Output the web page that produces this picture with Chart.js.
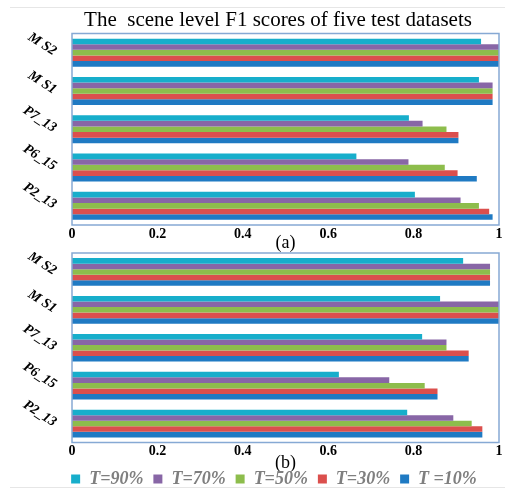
<!DOCTYPE html>
<html>
<head>
<meta charset="utf-8">
<script src="https://cdn.jsdelivr.net/npm/chart.js@4"></script>
<style>
  html, body { margin: 0; padding: 0; background: #fff; }
  body { width: 505px; height: 489px; overflow: hidden; position: relative; }
  .rule { position: absolute; left: 10px; right: 0; height: 1px; background: #e6e6e6; z-index: 2; }
  #ruleTop { top: 7px; }
  #ruleBottom { top: 487px; }
  .panel { position: absolute; left: 0; }
  .panel canvas { display: block; }
  #panelA { top: 0; }
  #panelB { top: 252px; }
</style>
</head>
<body>
<div class="rule" id="ruleTop"></div>
<div class="panel" id="panelA"><canvas id="chartA" width="505" height="252"></canvas></div>
<div class="panel" id="panelB"><canvas id="chartB" width="505" height="246"></canvas></div>
<div class="rule" id="ruleBottom"></div>
<script>
// Test datasets (top to bottom) and threshold series
const categories = ['M S2', 'M S1', 'P7_13', 'P6_15', 'P2_13'];
const seriesLabels = ['T=90%', 'T=70%', 'T=50%', 'T=30%', 'T =10%'];
const seriesColors = ['#17AECB', '#8866A6', '#8DBD4C', '#DB4F4D', '#1F7AC3'];
const xTickValues = [0, 0.2, 0.4, 0.6, 0.8, 1];
const xTickLabels = ['0', '0.2', '0.4', '0.6', '0.8', '1'];

// Panel (a) scene level F1 scores
const a_T90 = [0.958, 0.953, 0.789, 0.666, 0.803];
const a_T70 = [1.0, 0.985, 0.821, 0.788, 0.910];
const a_T50 = [1.0, 0.985, 0.877, 0.873, 0.953];
const a_T30 = [1.0, 0.985, 0.905, 0.903, 0.977];
const a_T10 = [1.0, 0.985, 0.905, 0.948, 0.985];

// Panel (b) scene level F1 scores
const b_T90 = [0.916, 0.862, 0.820, 0.625, 0.785];
const b_T70 = [0.979, 1.0, 0.877, 0.743, 0.893];
const b_T50 = [0.979, 1.0, 0.877, 0.826, 0.936];
const b_T30 = [0.979, 1.0, 0.929, 0.856, 0.961];
const b_T10 = [0.979, 1.0, 0.929, 0.856, 0.961];

const SERIF = "'Liberation Serif', 'Times New Roman', serif";

// Thin frame around the plotting area
const frame = {
  id: 'frame',
  afterDatasetsDraw(chart, args, opts) {
    const { ctx, chartArea: a } = chart;
    ctx.save();
    ctx.strokeStyle = opts.color;
    ctx.lineWidth = opts.width;
    ctx.strokeRect(a.left, a.top, a.right - a.left, a.bottom - a.top);
    ctx.restore();
  }
};

function buildChart(id, series, cfg) {
  return new Chart(document.getElementById(id), {
    type: 'bar',
    data: {
      labels: categories,
      datasets: seriesLabels.map((label, i) => ({
        label,
        data: series[i],
        backgroundColor: seriesColors[i],
        borderWidth: 0,
        barPercentage: 1,
        categoryPercentage: 0.73
      }))
    },
    options: {
      indexAxis: 'y',
      responsive: false,
      animation: false,
      devicePixelRatio: 1,
      layout: { padding: cfg.padding },
      plugins: {
        title: cfg.title,
        legend: cfg.legend,
        tooltip: { enabled: false },
        frame: { color: '#86A9D4', width: 1.5 }
      },
      scales: {
        x: {
          min: 0,
          max: 1,
          grid: { display: false, drawTicks: false },
          border: { display: false },
          afterBuildTicks: s => { s.ticks = xTickValues.map(v => ({ value: v })); },
          ticks: {
            padding: cfg.tickPad,
            color: '#000',
            font: { family: SERIF, size: 14, weight: 'bold' },
            callback: (v, i) => xTickLabels[i]
          },
          title: {
            display: true,
            text: cfg.tag,
            color: '#000',
            font: { family: SERIF, size: 18, lineHeight: 1 },
            padding: { top: 0, bottom: cfg.tagPad }
          },
          afterFit: s => {
            s.height = cfg.xHeight;
            s.paddingLeft = 0;
            s.paddingRight = 0;
          }
        },
        y: {
          grid: { display: false, drawTicks: false },
          border: { display: false },
          ticks: {
            minRotation: -33,
            maxRotation: -33,
            padding: 17,
            color: '#000',
            font: { family: SERIF, size: 14, weight: 'bold', style: 'italic' }
          },
          afterFit: s => {
            s.width = cfg.yWidth;
            s.paddingTop = 0;
            s.paddingBottom = 0;
            // slanted labels reach past the narrow axis box; let them draw unclipped
            s._computeLabelArea = () => null;
          }
        }
      }
    },
    plugins: [frame]
  });
}

buildChart('chartA', [a_T90, a_T70, a_T50, a_T30, a_T10], {
  padding: { top: 0, left: 57, right: 6, bottom: 0 },
  title: {
    display: true,
    text: 'The  scene level F1 scores of five test datasets',
    color: '#000',
    font: { family: SERIF, size: 21, weight: 'normal' },
    padding: { top: 8, bottom: 0.3 }
  },
  legend: { display: false },
  tag: '(a)', tagPad: 0, tickPad: 1, xHeight: 27, yWidth: 15
});

buildChart('chartB', [b_T90, b_T70, b_T50, b_T30, b_T10], {
  padding: { top: 1, left: 49, right: 6, bottom: 0 },
  title: { display: false },
  legend: {
    display: true,
    position: 'bottom',
    labels: {
      boxWidth: 9,
      boxHeight: 9,
      padding: 10,
      color: '#7f7f7f',
      font: { family: SERIF, size: 18, style: 'italic', weight: 'bold' }
    }
  },
  tag: '(b)', tagPad: -12, tickPad: 0, xHeight: 17.5, yWidth: 23
});
</script>
</body>
</html>
